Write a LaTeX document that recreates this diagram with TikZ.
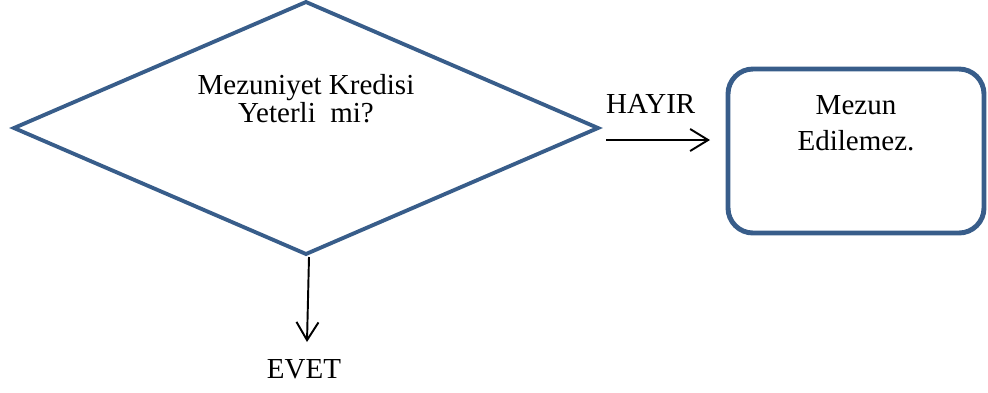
\documentclass[tikz,border=0pt]{standalone}
\usepackage{fontspec}
\setmainfont{Liberation Serif}
\usetikzlibrary{shapes.geometric,positioning,arrows.meta}
\definecolor{kenar}{HTML}{385D8A}
\tikzset{
>={Straight Barb[length=3.6mm,width=4.4mm]}, % open arrow heads
node distance=1cm,
every node/.style={font=\fontsize{16.5}{20.5}\selectfont,align=center,inner sep=0pt,outer sep=0pt},
on grid
}

\begin{document}
\begin{tikzpicture}[karar/.style={diamond, draw=kenar, line width=2.2pt, shape aspect=2.3, minimum width=11.68cm, minimum height=5.04cm},
  sonuc/.style={rectangle, rounded corners=0.5cm, draw=kenar, line width=2.8pt, minimum width=5.12cm, minimum height=3.28cm},
  ok/.style={->, black, line width=1.1pt}]
   \useasboundingbox (0,0) rectangle (19.76,-7.84);
   \node[karar, label={[font=\fontsize{16.5}{14.8}\selectfont, yshift=0.58cm]center:{Mezuniyet Kredisi\\Yeterli\ \ mi?}}] (kredi) at (6.12,-2.56) {};
   \node[sonuc, label={[yshift=0.56cm]center:{Mezun\\Edilemez.}}] (mezun) [below right=0.46cm and 11cm of kredi] {};
   \draw[ok] ([shift={(0.16,-0.24)}]kredi.east) -- ([shift={(-0.36,0.22)}]mezun.west)
     node[pos=0.43, above=0.54cm] (hayir) {HAYIR};
   \draw[ok] ([shift={(0.06,-0.06)}]kredi.south) -- ([shift={(0.02,-1.76)}]kredi.south)
     node[below=0.36cm, xshift=-0.06cm] (evet) {EVET};
\end{tikzpicture}
\end{document}
